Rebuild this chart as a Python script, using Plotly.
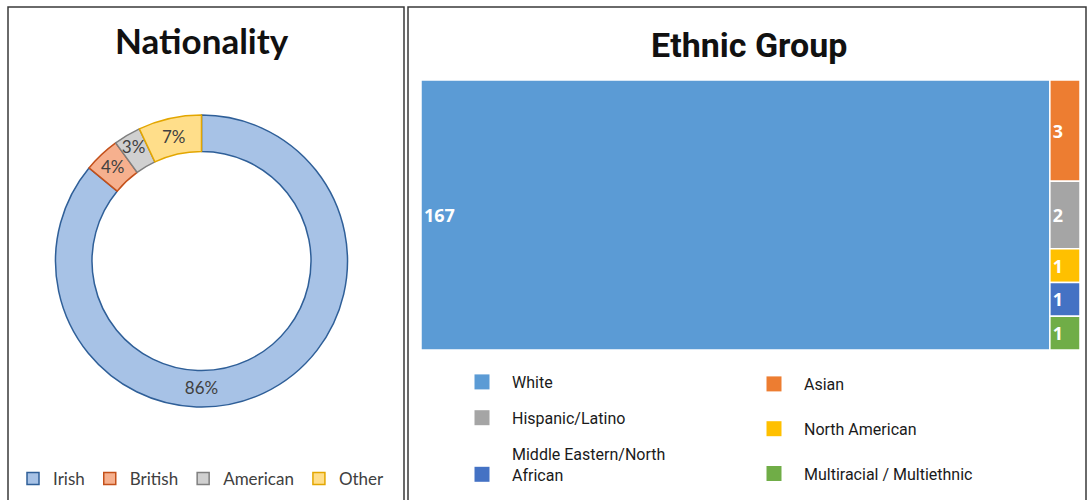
import plotly.graph_objects as go

# ---- Data ----
nat_labels = ["Irish", "British", "American", "Other"]
nat_values = [86, 4, 3, 7]
nat_fill = ["#A7C2E6", "#F6B08E", "#D0D0D0", "#FFDE8A"]
nat_line = ["#2F5F98", "#C4501A", "#7F7F7F", "#E3A600"]

eth_labels = ["White", "Asian", "Hispanic/Latino", "North American",
              "Middle Eastern/North African", "Multiracial / Multiethnic"]
eth_values = [167, 3, 2, 1, 1, 1]
eth_colors = ["#5B9BD5", "#ED7D31", "#A5A5A5", "#FFC000", "#4472C4", "#70AD47"]
# legend columns as in the reference
leg_col1 = ["White", "Hispanic/Latino", "Middle Eastern/North<br>African"]
leg_col1_colors = ["#5B9BD5", "#A5A5A5", "#4472C4"]
leg_col2 = ["Asian", "North American", "Multiracial / Multiethnic"]
leg_col2_colors = ["#ED7D31", "#FFC000", "#70AD47"]

W, H = 1091, 500

fig = go.Figure()

# Donut
fig.add_trace(go.Pie(
    labels=nat_labels, values=nat_values, sort=False, direction="clockwise",
    rotation=0, hole=0.75,
    marker=dict(colors=nat_fill, line=dict(color=nat_line, width=1.5)),
    texttemplate="%{percent:.0%}",
    textposition="inside", insidetextorientation="horizontal",
    textfont=dict(family="Lato", size=17, color="#404040"),
    domain=dict(x=[55 / W, 348 / W], y=[1 - 407 / H, 1 - 115 / H]),
    legend="legend", showlegend=True, hoverinfo="label+percent",
))

# Treemap
fig.add_trace(go.Treemap(
    labels=eth_labels, parents=[""] * len(eth_labels), values=eth_values,
    marker=dict(colors=eth_colors, line=dict(color="#ffffff", width=1.5),
                pad=dict(t=0, l=0, r=0, b=0)),
    texttemplate="<b>%{value}</b>", textposition="middle left",
    textfont=dict(family="Open Sans", size=18, color="#ffffff"),
    tiling=dict(packing="squarify", pad=0),
    pathbar=dict(visible=False),
    sort=True,
    domain=dict(x=[421 / W, 1080 / W], y=[1 - 350 / H, 1 - 80 / H]),
))

# Legend entries for the treemap, two vertical legends = two columns
for i, (name, col) in enumerate(zip(leg_col1, leg_col1_colors)):
    fig.add_trace(go.Scatter(
        x=[None], y=[None], mode="markers", name=name, legendgroup="a%d" % i,
        marker=dict(symbol="square", size=15, color=col),
        legend="legend2", showlegend=True, hoverinfo="skip",
    ))
for i, (name, col) in enumerate(zip(leg_col2, leg_col2_colors)):
    fig.add_trace(go.Scatter(
        x=[None], y=[None], mode="markers", name=name, legendgroup="b%d" % i,
        marker=dict(symbol="square", size=15, color=col),
        legend="legend3", showlegend=True, hoverinfo="skip",
    ))

leg_font = dict(family="Roboto", size=16, color="#1a1a1a")

fig.update_layout(
    width=W, height=H,
    margin=dict(l=0, r=0, t=0, b=0, autoexpand=False),
    paper_bgcolor="white", plot_bgcolor="white",
    xaxis=dict(visible=False, domain=[0, 0.01]),
    yaxis=dict(visible=False, domain=[0, 0.01]),
    uniformtext=dict(minsize=17, mode="show"),
    legend=dict(orientation="h", xref="paper", yref="paper",
                x=13 / W, xanchor="left",
                y=1 - 479 / H, yanchor="middle",
                font=dict(family="Lato", size=17, color="#404040"),
                itemwidth=30, bgcolor="rgba(0,0,0,0)"),
    legend2=dict(orientation="v", xref="paper", yref="paper",
                 x=452 / W, xanchor="left",
                 y=1 - 365 / H, yanchor="top",
                 tracegroupgap=12, valign="bottom",
                 font=leg_font, itemwidth=50, bgcolor="rgba(0,0,0,0)"),
    legend3=dict(orientation="v", xref="paper", yref="paper",
                 x=744 / W, xanchor="left",
                 y=1 - 367 / H, yanchor="top",
                 tracegroupgap=21, valign="bottom",
                 font=leg_font, itemwidth=50, bgcolor="rgba(0,0,0,0)"),
    shapes=[
        dict(type="rect", xref="paper", yref="paper", x0=8 / W, x1=404 / W,
             y0=-0.02, y1=1 - 7 / H, line=dict(color="#3a3a3a", width=1.5)),
        dict(type="rect", xref="paper", yref="paper", x0=408 / W, x1=1086 / W,
             y0=-0.02, y1=1 - 7 / H, line=dict(color="#3a3a3a", width=1.5)),
    ],
    annotations=[
        dict(text="<b>Nationality</b>", x=202 / W, y=1 - 40 / H, xref="paper", yref="paper",
             xanchor="center", yanchor="middle", showarrow=False,
             font=dict(family="Lato", size=35, color="#111111")),
        dict(text="<b>Ethnic Group</b>", x=749 / W, y=1 - 45 / H, xref="paper", yref="paper",
             xanchor="center", yanchor="middle", showarrow=False,
             font=dict(family="Roboto", size=34, color="#111111")),
    ],
)

fig.write_html("out.html", config={"displayModeBar": False},
               post_script="document.body.style.margin='0';document.body.style.padding='0';")
